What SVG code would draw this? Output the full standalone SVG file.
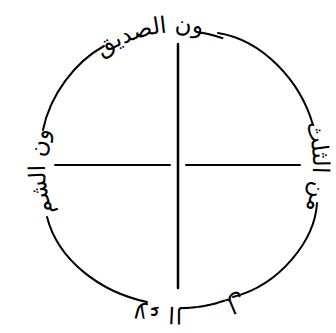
<svg xmlns="http://www.w3.org/2000/svg" xmlns:xlink="http://www.w3.org/1999/xlink" width="336" height="333" viewBox="0 0 336 333">
<style>
.ln{fill:none;stroke:#000;stroke-linecap:round}
.lbl{font-family:"DejaVu Sans","Noto Sans",sans-serif;font-size:23px;fill:#000}
</style>
<defs>
<path id="ring" d="M 295.05,233 A 134 134 0 1 1 62.95,99 A 134 134 0 1 1 295.05,233"/>
</defs>
<rect width="336" height="333" fill="#fff"/>
<g id="connectors">
<path class="ln" stroke-width="2" d="M 218,33 C 262,40 300,80 313,125"/>
<path class="ln" stroke-width="2" d="M 317,203 C 315,240 280,285 233,297"/>
<path class="ln" stroke-width="2" d="M 147,302 C 100,292 58,260 47,217"/>
<path class="ln" stroke-width="2" d="M 43,130 C 50,95 75,62 104,46"/>
<line class="ln" stroke-width="2.5" x1="178" y1="44" x2="178" y2="288"/>
<line class="ln" stroke-width="2" x1="55" y1="165" x2="170" y2="165"/>
<line class="ln" stroke-width="2" x1="186" y1="165" x2="300" y2="165"/>
</g>
<g id="label-top"><text class="lbl"><textPath xlink:href="#ring" startOffset="542" text-anchor="middle">ـــون الصديق</textPath></text></g>
<g id="label-left"><text class="lbl"><textPath xlink:href="#ring" startOffset="345" text-anchor="middle">ون الشم</textPath></text></g>
<g id="label-right"><text class="lbl"><textPath xlink:href="#ring" startOffset="772" text-anchor="middle">من الثلث</textPath></text></g>
<g id="label-bottom"><text class="lbl" dy="-7"><textPath xlink:href="#ring" startOffset="130" text-anchor="middle">لاء الــــــل</textPath></text></g>
</svg>
